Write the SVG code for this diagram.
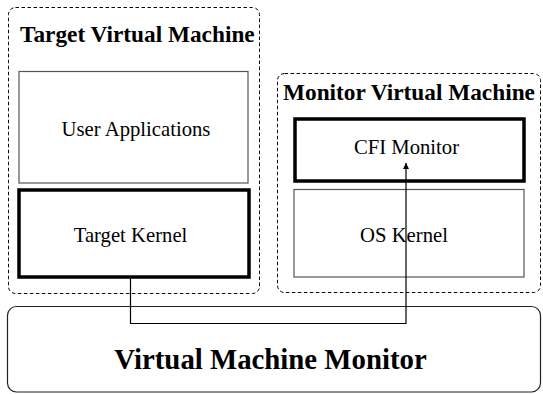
<svg xmlns="http://www.w3.org/2000/svg" width="543" height="394" viewBox="0 0 543 394">
<style>
.vm{fill:none;stroke:#000;stroke-width:1;stroke-dasharray:3.5,2.5}
.thin{fill:#fff;stroke:#555;stroke-width:1.2}
.thick{fill:#fff;stroke:#000;stroke-width:3.5}
.lbl{font-family:"Liberation Serif","Times New Roman",serif;font-size:20.7px;fill:#000;text-anchor:middle}
.ttl{font-family:"Liberation Serif","Times New Roman",serif;font-size:23.3px;font-weight:bold;fill:#000}
.conn{fill:none;stroke:#000;stroke-width:1.2}
</style>
<defs>
<marker id="arr" viewBox="0 0 10 10" refX="10" refY="5" markerWidth="10" markerHeight="6" markerUnits="userSpaceOnUse" orient="auto">
<path d="M0,0 L10,5 L0,10 z" fill="#000"/>
</marker>
</defs>
<rect x="0" y="0" width="543" height="394" fill="#fff"/>
<g id="target-vm">
<rect class="vm" x="8.5" y="7.5" width="251" height="286" rx="7"/>
<text class="ttl" x="20" y="41.5">Target Virtual Machine</text>
</g>
<g id="user-apps">
<rect class="thin" x="19" y="71.5" width="229" height="111.5"/>
<text class="lbl" x="136" y="136">User Applications</text>
</g>
<g id="target-kernel">
<rect class="thick" x="19" y="190" width="230" height="87"/>
<text class="lbl" x="130.5" y="241.5">Target Kernel</text>
</g>
<g id="monitor-vm">
<rect class="vm" x="277.5" y="73.5" width="263" height="219" rx="7"/>
<text class="ttl" x="283" y="100">Monitor Virtual Machine</text>
</g>
<g id="cfi-monitor">
<rect class="thick" x="295" y="119" width="229" height="62"/>
<text class="lbl" x="406.5" y="154">CFI Monitor</text>
</g>
<g id="os-kernel">
<rect class="thin" x="294" y="189.5" width="230" height="87.5"/>
<text class="lbl" x="404" y="241.5">OS Kernel</text>
</g>
<g id="vmm">
<rect x="7.5" y="306.5" width="533" height="85.5" rx="9" fill="none" stroke="#222" stroke-width="1.2"/>
<text x="270.5" y="369" font-family="'Liberation Serif','Times New Roman',serif" font-size="28.8px" font-weight="bold" text-anchor="middle" fill="#000">Virtual Machine Monitor</text>
</g>
<g id="connectors">
<polyline class="conn" points="130.5,278.5 130.5,323.5 406,323.5 406,163" marker-end="url(#arr)"/>
</g>
</svg>
